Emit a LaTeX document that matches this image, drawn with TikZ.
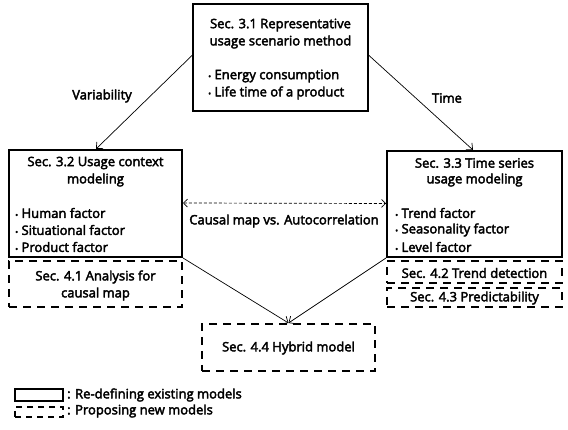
\documentclass[tikz,border=0pt]{standalone}
\usepackage{fontspec}
\setmainfont{Open Sans}[FakeBold=3]
\usetikzlibrary{arrows.meta}
\newcommand{\bul}{{\fontsize{8}{8}\selectfont •}\ }
\tikzset{
  solidbox/.style={draw, line width=2pt, inner sep=0pt},
  dashbox/.style={draw, line width=2pt, dash pattern=on 8pt off 6pt, inner sep=0pt},
  txt/.style={inner sep=0pt, font=\fontsize{13}{15}\selectfont},
  conn/.style={draw, line width=0.7pt, -{Straight Barb[length=5pt,width=9pt,line width=0.7pt]}},
  dconn/.style={draw, line width=0.7pt, dash pattern=on 3pt off 2pt, {Straight Barb[length=4pt,width=8pt,line width=0.7pt]}-{Straight Barb[length=4pt,width=8pt,line width=0.7pt]}}
}
\begin{document}
\begin{tikzpicture}[x=1pt,y=-1pt]
\useasboundingbox (0,0) rectangle (568,430);
% boxes
\node[solidbox, minimum width=175pt, minimum height=107pt] (b31) at (280.5,57.5) {};
\node[solidbox, minimum width=173pt, minimum height=107pt] (b32) at (95.5,203.5) {};
\node[dashbox, minimum width=173pt, minimum height=46pt] (b41) at (95.5,284) {};
\node[solidbox, minimum width=175pt, minimum height=106pt] (b33) at (474.5,204) {};
\node[dashbox, minimum width=175pt, minimum height=22pt] (b42) at (474.5,272) {};
\node[dashbox, minimum width=175pt, minimum height=19pt] (b43) at (474.5,297.5) {};
\node[dashbox, minimum width=173pt, minimum height=47pt] (b44) at (288.5,347.5) {};
% texts top
\node[txt] (t31a) at (280.5,25) {Sec. 3.1 Representative};
\node[txt] (t31b) at (280.5,42) {usage scenario method};
\node[txt, anchor=west] (t31c) at (208,76) {\bul Energy consumption};
\node[txt, anchor=west] (t31d) at (208,93) {\bul Life time of a product};
% left
\node[txt] (t32a) at (95.5,163) {Sec. 3.2 Usage context};
\node[txt] (t32b) at (95.5,180) {modeling};
\node[txt, anchor=west] (t32c) at (15,213) {\bul Human factor};
\node[txt, anchor=west] (t32d) at (15,230) {\bul Situational factor};
\node[txt, anchor=west] (t32e) at (15,247) {\bul Product factor};
\node[txt] (t41a) at (95.5,277) {Sec. 4.1 Analysis for};
\node[txt] (t41b) at (95.5,294) {causal map};
% right
\node[txt] (t33a) at (474.5,163) {Sec. 3.3 Time series};
\node[txt] (t33b) at (474.5,180) {usage modeling};
\node[txt, anchor=west] (t33c) at (395,213) {\bul Trend factor};
\node[txt, anchor=west] (t33d) at (395,230) {\bul Seasonality factor};
\node[txt, anchor=west] (t33e) at (395,247) {\bul Level factor};
\node[txt] (t42) at (474.5,273) {Sec. 4.2 Trend detection};
\node[txt] (t43) at (474.5,298) {Sec. 4.3 Predictability};
\node[txt] (t44) at (288.5,348) {Sec. 4.4 Hybrid model};
% labels
\node[txt] (lvar) at (102,96) {Variability};
\node[txt] (ltime) at (447,98) {Time};
\node[txt] (lcm) at (284,221) {Causal map vs. Autocorrelation};
% connectors
\coordinate (s1) at ([yshift=2pt]b31.west);
\coordinate (s2) at ([yshift=2pt]b31.east);
\draw[conn] (s1) -- (b32.north -| 96,0);
\draw[conn] (s2) -- (b33.north -| 473,0);
\draw[dconn] ([yshift=0.5pt]b32.east) -- (b33.west |- b32.east);
\draw[conn] (b32.south east) -- (b44.north);
\draw[conn] (b33.south west) -- (b44.north);
% legend
\node[draw, line width=1.6pt, minimum width=48pt, minimum height=12pt, inner sep=0pt] (lg1) at (39,395) {};
\node[draw, line width=1.6pt, dash pattern=on 6pt off 5pt, minimum width=48pt, minimum height=10pt, inner sep=0pt] (lg2) at (39,412) {};
\node[txt, anchor=west] (lg1t) at (67,395) {: Re-defining existing models};
\node[txt, anchor=west] (lg2t) at (67,411) {: Proposing new models};
\end{tikzpicture}
\end{document}
